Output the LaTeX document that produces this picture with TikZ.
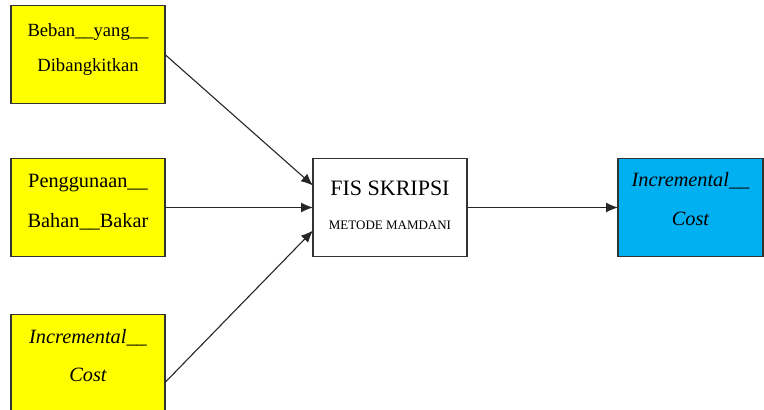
\documentclass[tikz,border=0pt]{standalone}
\usepackage{fontspec}
\setmainfont{Liberation Serif}
\usetikzlibrary{arrows.meta}
\definecolor{boxyellow}{HTML}{FFFF00}
\definecolor{boxblue}{HTML}{00B0F0}
\newcommand{\txtdepth}[1]{\rule[-#1]{0pt}{#1}}
\begin{document}
\begin{tikzpicture}[x=1pt,y=-1pt,>={Latex[length=12pt,width=10pt]}]

  \tikzstyle{box}=[rectangle,draw=black!80,line width=1.3pt,outer sep=0pt,inner sep=0pt,
    minimum width=154pt,minimum height=98pt,align=center,font=\fontsize{20.3}{20.3}\selectfont]
  \tikzstyle{inbox}=[box,fill=boxyellow]
  \tikzstyle{outbox}=[box,fill=boxblue,minimum width=145pt]
  \tikzstyle{link}=[->,line width=1.1pt,draw=black!85]

  \useasboundingbox (0,0) rectangle (764,410);

  % masukan
  \node [inbox] (beban) at (88,54.5) {\fontsize{18.6}{18.6}\selectfont Beban\_\_yang\_\_\\[15pt]\fontsize{18.6}{18.6}\selectfont Dibangkitkan\txtdepth{14.2pt}};

  \node [inbox] (bahan) at (88,207.5) {Penggunaan\_\_\\[19.7pt]Bahan\_\_Bakar\txtdepth{12.4pt}};

  \node [inbox] (costin) at (88,363.5) {\itshape Incremental\_\_\\[17.9pt]\itshape Cost\txtdepth{16pt}};

  % proses
  \node [box] (fis) at (390,207.5) {\fontsize{22}{22}\selectfont FIS SKRIPSI\\[14pt]\fontsize{13}{13}\selectfont METODE MAMDANI\txtdepth{4.5pt}};

  % keluaran
  \node [outbox] (costout) at (690.5,207.5) {\itshape Incremental\_\_\\[19.5pt]\itshape Cost\txtdepth{17pt}};

  \draw [link] (beban.east) -- ([yshift=22pt]fis.west);
  \draw [link] (bahan.east) -- (fis.west);
  \draw [link] ([yshift=-19pt]costin.east) -- ([yshift=-23pt]fis.west);
  \draw [link] (fis.east) -- (costout.west);

\end{tikzpicture}
\end{document}
